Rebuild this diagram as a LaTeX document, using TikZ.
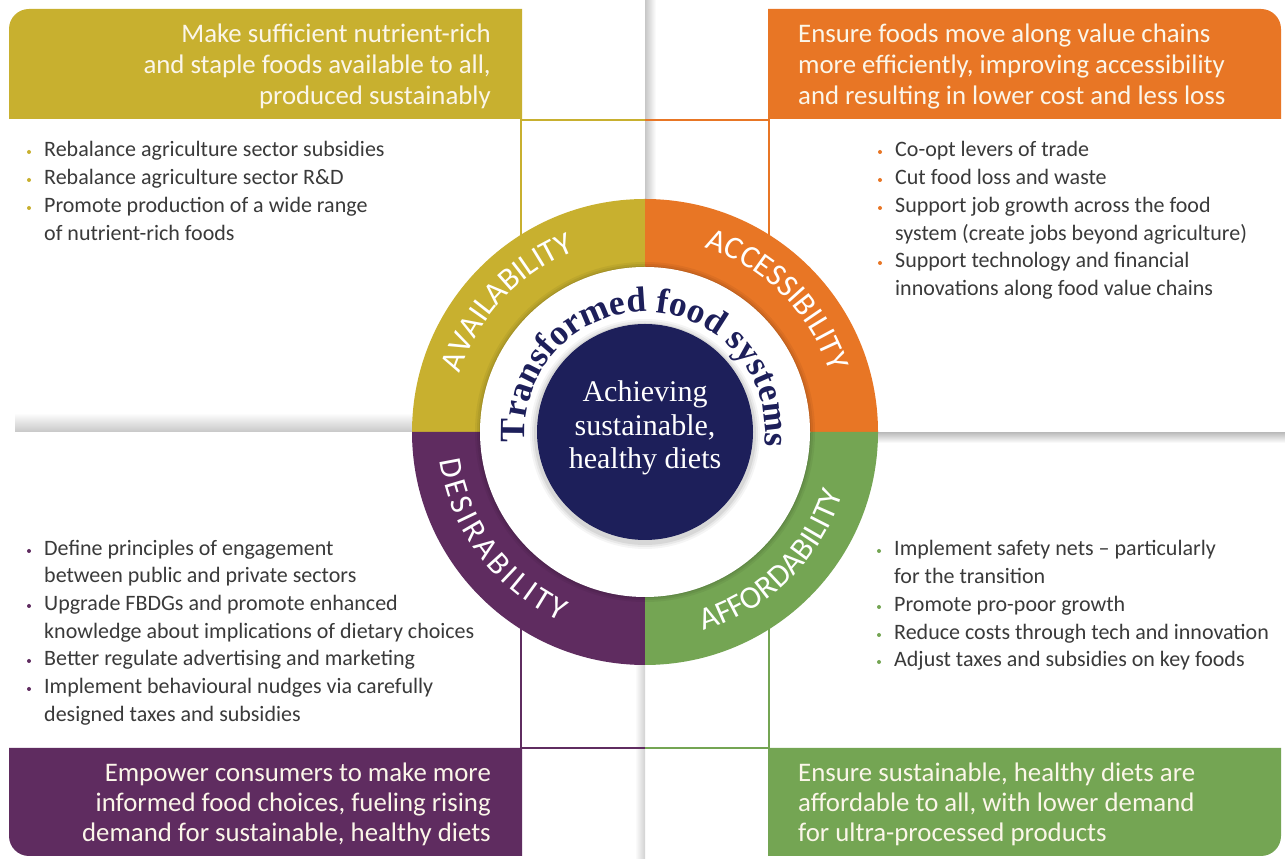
\documentclass[tikz,border=0pt]{standalone}
\usepackage{fontspec}
\usetikzlibrary{decorations.text}
\newfontfamily\carlito{Carlito}
\newfontfamily\lserif{Liberation Serif}
\definecolor{olivey}{HTML}{C8B02F}
\definecolor{orng}{HTML}{E87625}
\definecolor{purp}{HTML}{5F2C60}
\definecolor{grn}{HTML}{74A553}
\definecolor{navy}{HTML}{1D1F5A}
\definecolor{textgray}{HTML}{3A3A3A}
\definecolor{bantxt}{HTML}{FBF6E9}
\newcommand\bulfont{\carlito\fontsize{22}{26}\selectfont}
\newcommand\banfont{\carlito\fontsize{26.8}{31}\selectfont}
\newcommand\ringfont{\carlito\fontsize{32}{32}\selectfont}
\newcommand\tfsfont{\lserif\bfseries\fontsize{35.5}{36}\selectfont}
\newcommand\cenfont{\lserif\fontsize{30}{30}\selectfont}
\tikzset{
  bul/.style={font=\bulfont, text=textgray, inner sep=0pt, anchor=base west},
  banL/.style={font=\banfont, text=bantxt, inner sep=0pt, anchor=base east},
  banR/.style={font=\banfont, text=bantxt, inner sep=0pt, anchor=base west},
  cen/.style={font=\cenfont, text=white, inner sep=0pt, anchor=base},
  thinline/.style={line width=1.8pt},
}
\newcommand\bitem[5]{\fill[#4] (#2-15,#3+5) circle[radius=2]; \node[bul] (#1) at (#2,#3) {#5};}
\newcommand\citem[4]{\node[bul] (#1) at (#2,#3) {#4};}
\newcommand\toplabel[3]{\path[decorate, decoration={text along path, text align=center, text color=white, text={|\ringfont|#3}}] (#1+70:#2) arc[start angle=#1+70, end angle=#1-70, radius=#2];}
\newcommand\botlabel[3]{\path[decorate, decoration={text along path, text align=center, text color=white, text={|\ringfont|#3}}] (#1-70:#2) arc[start angle=#1-70, end angle=#1+70, radius=#2];}
\begin{document}
\begin{tikzpicture}[x=1pt,y=1pt]
\useasboundingbox (0,0) rectangle (1285,859);
\fill[white] (0,0) rectangle (1285,859);
% separator shadows
\shade[left color=black!22, right color=white] (645,660) rectangle (656,859);
\shade[left color=white, right color=black!18] (635,0) rectangle (645,194);
\shade[top color=white, bottom color=black!22] (15,427) rectangle (412,446);
\shade[top color=black!25, bottom color=white] (878,416) rectangle (1285,426);
% thin frame lines
\draw[thinline, olivey] (521,620) -- (521,739) -- (645,739);
\draw[thinline, orng] (645,739) -- (769,739) -- (769,620);
\draw[thinline, purp] (521,234) -- (521,111) -- (645,111);
\draw[thinline, grn] (645,111) -- (769,111) -- (769,234);
% banners
\fill[olivey] (522,740) -- (9,740) -- (9,830) arc[start angle=180, end angle=90, radius=20] -- (522,850) -- cycle;
\fill[orng] (768,740) -- (1281,740) -- (1281,830) arc[start angle=0, end angle=90, radius=20] -- (768,850) -- cycle;
\fill[purp] (522,111) -- (9,111) -- (9,23) arc[start angle=180, end angle=270, radius=20] -- (522,3) -- cycle;
\fill[grn] (768,111) -- (1281,111) -- (1281,23) arc[start angle=0, end angle=-90, radius=20] -- (768,3) -- cycle;
% banner texts
\node[banL] (tl1) at (491,816) {Make sufficient nutrient-rich};
\node[banL] (tl2) at (491,785) {and staple foods available to all,};
\node[banL] (tl3) at (491,754) {produced sustainably};
\node[banR] (tr1) at (798,816) {Ensure foods move along value chains};
\node[banR] (tr2) at (798,785) {more efficiently, improving accessibility};
\node[banR] (tr3) at (798,754) {and resulting in lower cost and less loss};
\node[banL] (bl1) at (491,77) {Empower consumers to make more};
\node[banL] (bl2) at (491,47) {informed food choices, fueling rising};
\node[banL] (bl3) at (491,17) {demand for sustainable, healthy diets};
\node[banR] (br1) at (798,77) {Ensure sustainable, healthy diets are};
\node[banR] (br2) at (798,47) {affordable to all, with lower demand};
\node[banR] (br3) at (798,17) {for ultra-processed products};
% bullet lists
\bitem{a1}{44}{702}{olivey}{Rebalance agriculture sector subsidies}
\bitem{a2}{44}{674}{olivey}{Rebalance agriculture sector R\&D}
\bitem{a3}{44}{646}{olivey}{Promote production of a wide range}
\citem{a4}{44}{618}{of nutrient-rich foods}
\bitem{c1}{895}{702}{orng}{Co-opt levers of trade}
\bitem{c2}{895}{674}{orng}{Cut food loss and waste}
\bitem{c3}{895}{646}{orng}{Support job growth across the food}
\citem{c4}{895}{618}{system (create jobs beyond agriculture)}
\bitem{c5}{895}{591}{orng}{Support technology and financial}
\citem{c6}{895}{563}{innovations along food value chains}
\bitem{d1}{44}{303}{purp}{Define principles of engagement}
\citem{d2}{44}{276}{between public and private sectors}
\bitem{d3}{44}{248}{purp}{Upgrade FBDGs and promote enhanced}
\citem{d4}{44}{220}{knowledge about implications of dietary choices}
\bitem{d5}{44}{193}{purp}{Better regulate advertising and marketing}
\bitem{d6}{44}{165}{purp}{Implement behavioural nudges via carefully}
\citem{d7}{44}{137}{designed taxes and subsidies}
\bitem{f1}{894}{303}{grn}{Implement safety nets – particularly}
\citem{f2}{894}{275}{for the transition}
\bitem{f3}{894}{247}{grn}{Promote pro-poor growth}
\bitem{f4}{894}{219}{grn}{Reduce costs through tech and innovation}
\bitem{f5}{894}{192}{grn}{Adjust taxes and subsidies on key foods}
% ring
\begin{scope}[shift={(645,427)}]
\fill[olivey] (0,0) -- (90:233) arc[start angle=90, end angle=180, radius=233] -- cycle;
\fill[orng] (0,0) -- (0:233) arc[start angle=0, end angle=90, radius=233] -- cycle;
\fill[purp] (0,0) -- (180:233) arc[start angle=180, end angle=270, radius=233] -- cycle;
\fill[grn] (0,0) -- (270:233) arc[start angle=270, end angle=360, radius=233] -- cycle;
\foreach \r/\o in {170/0.05,168/0.06,166/0.08} {\fill[black, opacity=\o] (0,0) circle[radius=\r];}
\fill[white] (0,0) circle[radius=165];
\foreach \r/\o in {115/0.04,113/0.05,111/0.07} {\fill[black, opacity=\o] (0,-2) circle[radius=\r];}
\fill[navy] (0,0) circle[radius=108];
\toplabel{136.75}{194}{AVAILABILITY}
\toplabel{45}{194}{ACCESSIBILITY}
\path[decorate, decoration={text along path, text align=fit to path, text color=white, text={|\ringfont|DESIRABILITY}}] (188:207) arc[start angle=188, end angle=246, radius=207];
\botlabel{314.5}{207}{AFFORDABILITY}
\path[decorate, decoration={text along path, text align=center, text color=navy, text={|\tfsfont|Transformed food systems}}] (199:120) arc[start angle=199, end angle=-21, radius=120];
\end{scope}
\node[cen] (m1) at (645,457) {Achieving};
\node[cen] (m2) at (645,423) {sustainable,};
\node[cen] (m3) at (645,390) {healthy diets};
\end{tikzpicture}
\end{document}
